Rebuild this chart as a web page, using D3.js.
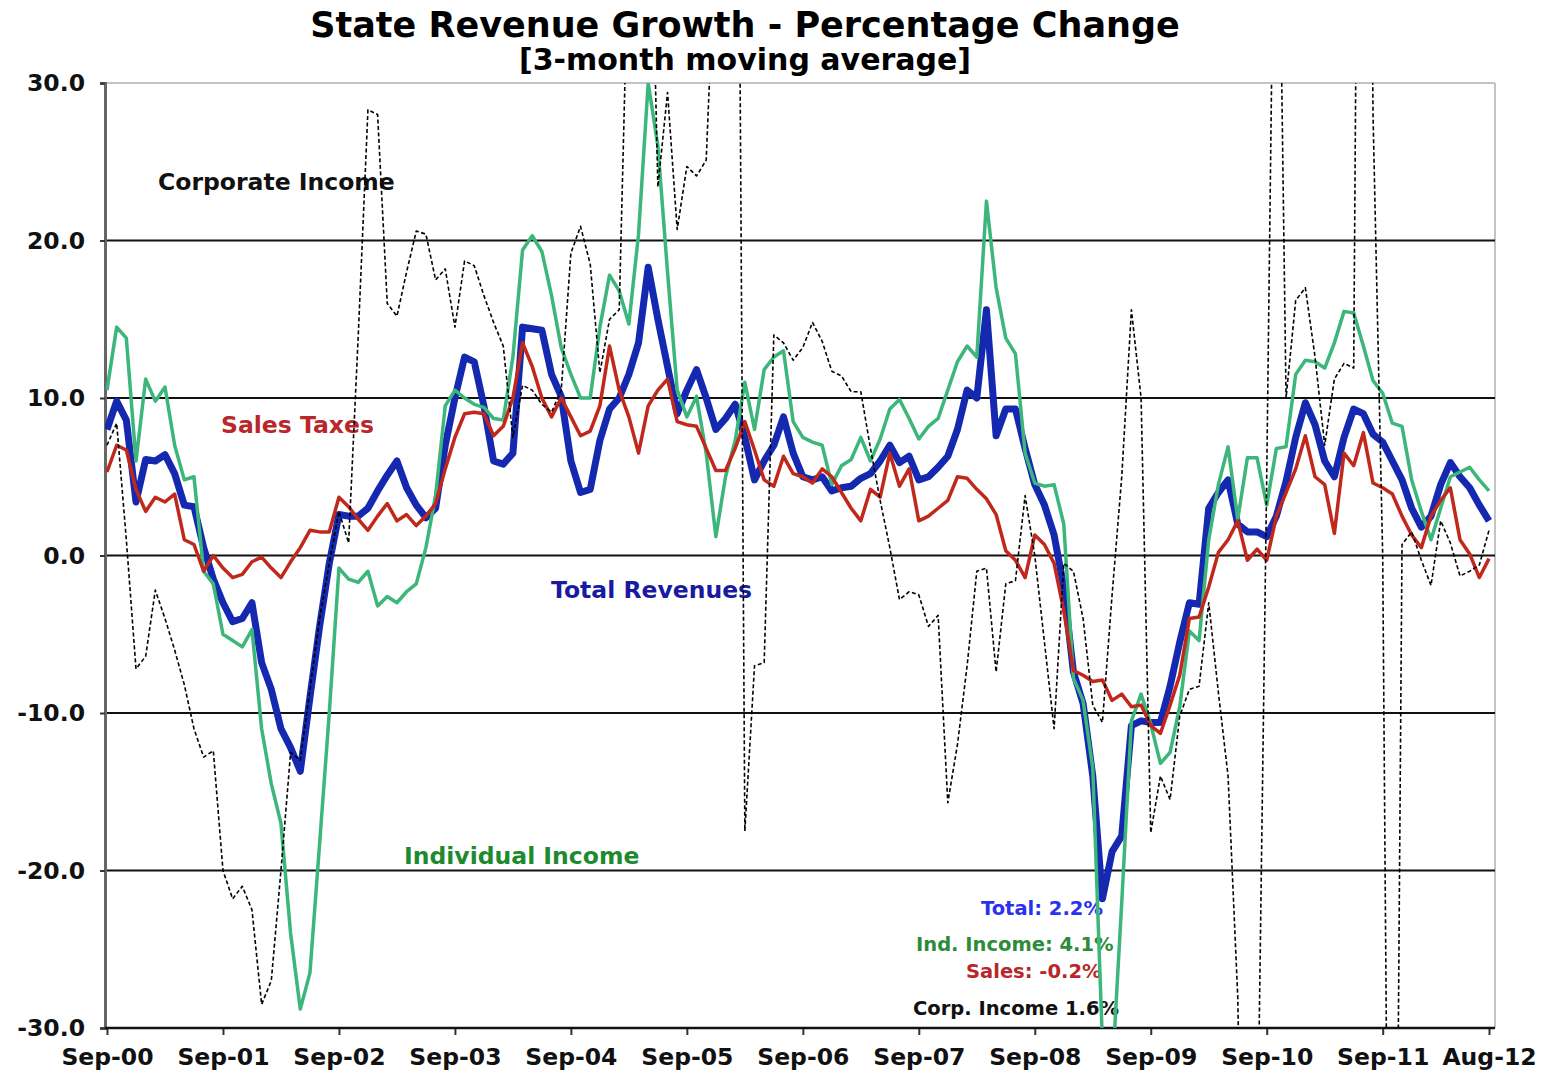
<!DOCTYPE html>
<meta charset="utf-8">
<style>
body { margin: 0; background: #fff; }
text { font-family: "DejaVu Sans", Verdana, sans-serif; font-weight: bold; }
</style>
<body>
<script src="https://cdn.jsdelivr.net/npm/d3@7"></script>
<script>

// monthly values, Sep-00 .. Aug-12 (144 months)
var totalRev = [
  8.0, 9.8, 8.6, 3.4, 6.1, 6.0, 6.4, 5.2, 3.2, 3.1, 0.5, -1.5,
  -3.0, -4.2, -4.0, -3.0, -6.8, -8.5, -11.0, -12.2, -13.7, -9.0, -4.5, -0.5,
  2.6, 2.5, 2.5, 3.0, 4.1, 5.1, 6.0, 4.3, 3.2, 2.4, 3.0, 7.0,
  10.0, 12.6, 12.3, 9.5, 6.0, 5.8, 6.5, 14.5, 14.4, 14.3, 11.5, 10.1,
  6.0, 4.0, 4.2, 7.3, 9.3, 10.0, 11.5, 13.5, 18.3, 15.0, 12.0, 9.0,
  10.5, 11.8, 10.0, 8.0, 8.7, 9.6, 7.5, 4.8, 6.0, 7.0, 8.8, 6.5,
  5.0, 4.8, 5.0, 4.1, 4.3, 4.4, 4.9, 5.2, 6.0, 7.0, 5.9, 6.3,
  4.8, 5.0, 5.6, 6.3, 8.0, 10.5, 10.0, 15.6, 7.6, 9.3, 9.3, 6.8,
  4.5, 3.2, 1.3, -2.0, -7.4, -9.4, -14.0, -21.8, -18.8, -17.8, -10.8, -10.5,
  -10.6, -10.6, -8.3, -5.5, -3.0, -3.1, 3.0, 4.0, 4.8, 2.0, 1.5, 1.5,
  1.2, 2.5, 4.7, 7.5, 9.7, 8.3, 6.0, 5.0, 7.5, 9.3, 9.0, 7.7,
  7.2, 6.0, 4.8, 3.0, 1.8, 2.5, 4.5, 5.9, 5.0, 4.3, 3.2, 2.2
];

var indIncome = [
  10.5, 14.5, 13.8, 6.0, 11.2, 9.8, 10.7, 7.0, 4.8, 5.0, -1.0, -1.8,
  -5.0, -5.4, -5.8, -4.7, -11.0, -14.5, -17.0, -24.0, -28.8, -26.5, -18.3, -10.0,
  -0.8, -1.5, -1.7, -1.0, -3.2, -2.6, -3.0, -2.3, -1.8, 0.5, 3.8, 9.5,
  10.5, 10.0, 9.6, 9.4, 8.7, 8.6, 12.6, 19.4, 20.3, 19.3, 16.5, 13.2,
  11.5, 10.0, 10.0, 14.5, 17.8, 16.8, 14.7, 20.4, 30.0, 26.0, 18.0, 10.5,
  8.8, 10.1, 6.5, 1.2, 5.0, 7.3, 11.0, 8.0, 11.8, 12.6, 13.0, 8.5,
  7.5, 7.2, 7.0, 4.5, 5.7, 6.1, 7.5, 6.0, 7.4, 9.3, 9.9, 8.7,
  7.4, 8.2, 8.7, 10.5, 12.3, 13.3, 12.6, 22.5, 17.0, 13.8, 12.8, 6.5,
  4.6, 4.4, 4.5, 2.0, -7.8, -9.2, -13.5, -31.0, -33.0, -22.0, -10.5, -8.8,
  -10.7, -13.2, -12.5, -9.6, -4.8, -5.4, 1.0, 4.5, 6.9, 2.3, 6.2, 6.2,
  3.2, 6.8, 6.9, 11.5, 12.4, 12.3, 11.9, 13.5, 15.5, 15.4, 13.3, 11.1,
  10.3, 8.4, 8.2, 4.8, 2.8, 1.0, 3.0, 5.0, 5.3, 5.6, 4.8, 4.1
];

var salesTax = [
  5.3, 7.0, 6.7, 4.2, 2.8, 3.7, 3.4, 3.9, 1.0, 0.7, -1.0, 0.0,
  -0.8, -1.4, -1.2, -0.4, -0.1, -0.8, -1.4, -0.4, 0.5, 1.6, 1.5, 1.5,
  3.7, 3.1, 2.3, 1.6, 2.5, 3.3, 2.2, 2.6, 1.9, 2.5, 3.3, 5.5,
  7.5, 9.0, 9.1, 9.0, 7.6, 8.2, 10.0, 13.5, 12.0, 10.0, 8.8, 10.0,
  8.8, 7.6, 7.9, 9.5, 13.3, 10.5, 8.8, 6.5, 9.5, 10.5, 11.2, 8.5,
  8.3, 8.2, 6.8, 5.4, 5.4, 6.8, 8.5, 6.7, 4.8, 4.4, 6.3, 5.2,
  5.0, 4.6, 5.5, 5.0, 4.0, 3.0, 2.2, 4.2, 3.7, 6.5, 4.4, 5.5,
  2.2, 2.5, 3.0, 3.5, 5.0, 4.9, 4.2, 3.6, 2.6, 0.3, -0.3, -1.4,
  1.3, 0.7, -0.5, -3.5, -7.3, -7.6, -8.0, -7.9, -9.2, -8.8, -9.6, -9.5,
  -10.8, -11.3, -9.5, -7.6, -4.0, -3.9, -2.0, 0.2, 1.0, 2.2, -0.3, 0.4,
  -0.3, 2.5, 4.0, 5.5, 7.6, 5.0, 4.5, 1.4, 6.5, 5.7, 7.8, 4.6,
  4.3, 3.9, 2.5, 1.3, 0.5, 2.5, 3.5, 4.3, 1.0, 0.1, -1.4, -0.2
];

// clipped months (beyond +/-30) carry large values so the line runs off the frame
var corpIncome = [
  7.0, 8.4, 1.0, -7.2, -6.4, -2.2, -4.0, -6.0, -8.2, -11.0, -12.8, -12.4,
  -20.0, -21.8, -21.0, -22.5, -28.5, -27.0, -20.0, -12.5, -13.0, -8.5, -4.0, -0.5,
  2.8, 0.8, 14.0, 28.3, 28.0, 16.0, 15.2, 18.0, 20.6, 20.4, 17.5, 18.2,
  14.5, 18.7, 18.4, 16.5, 14.8, 13.3, 7.5, 10.8, 10.5, 9.6, 9.1, 10.5,
  19.2, 20.9, 18.5, 11.6, 15.0, 15.6, 40, 60, 50, 23.4, 29.4, 20.7,
  24.7, 24.1, 25.1, 40, 80, 80, -17.5, -7.0, -6.8, 14.0, 13.5, 12.4,
  13.2, 14.8, 13.6, 11.7, 11.4, 10.4, 10.4, 6.8, 3.5, 0.5, -2.8, -2.3,
  -2.5, -4.5, -3.8, -15.7, -12.0, -7.0, -1.0, -0.8, -7.4, -1.8, -1.6, 3.8,
  0.0, -5.5, -11.0, -0.5, -1.0, -4.0, -9.5, -10.6, -2.5, 5.0, 15.6, 10.0,
  -17.6, -14.0, -15.5, -10.2, -8.5, -8.3, -3.0, -8.7, -14.0, -28.0, -60, -40,
  5, 55, 10.0, 16.2, 17.0, 12.6, 7.0, 11.2, 12.2, 11.9, 100, 28,
  0, -80, 0.7, 1.5, -0.3, -1.9, 2.2, 0.8, -1.3, -1.0, -0.6, 1.6
];

var tickIdx = [0, 12, 24, 36, 48, 60, 72, 84, 96, 108, 120, 132, 143];
var tickLabels = ["Sep-00", "Sep-01", "Sep-02", "Sep-03", "Sep-04", "Sep-05", "Sep-06",
                  "Sep-07", "Sep-08", "Sep-09", "Sep-10", "Sep-11", "Aug-12"];
var yTicks = [30, 20, 10, 0, -10, -20, -30];
var gridVals = [20, 10, 0, -10, -20];

var width = 1554, height = 1074;
var plot = {left: 105, right: 1495, top: 83, bottom: 1028};

var x = d3.scaleLinear().domain([0, 143]).range([107, 1489]);
var y = d3.scaleLinear().domain([-30, 30]).range([plot.bottom, plot.top]);

var svg = d3.select("body").append("svg")
    .attr("width", width)
    .attr("height", height);

svg.append("defs").append("clipPath")
    .attr("id", "plotclip")
  .append("rect")
    .attr("x", plot.left)
    .attr("y", plot.top)
    .attr("width", plot.right - plot.left)
    .attr("height", plot.bottom - plot.top);

// title
svg.append("text")
    .attr("x", 745).attr("y", 37)
    .attr("text-anchor", "middle")
    .style("font-size", "35px")
    .text("State Revenue Growth - Percentage Change");
svg.append("text")
    .attr("x", 745).attr("y", 70)
    .attr("text-anchor", "middle")
    .style("font-size", "30px")
    .text("[3-month moving average]");

// frame
svg.append("line")
    .attr("x1", plot.left).attr("x2", plot.right)
    .attr("y1", plot.top).attr("y2", plot.top)
    .style("stroke", "#c4c4c4").style("stroke-width", 2);
svg.append("line")
    .attr("x1", plot.right).attr("x2", plot.right)
    .attr("y1", plot.top).attr("y2", plot.bottom)
    .style("stroke", "#c4c4c4").style("stroke-width", 2);

svg.selectAll(".grid")
    .data(gridVals)
  .enter().append("line")
    .attr("class", "grid")
    .attr("x1", plot.left).attr("x2", plot.right)
    .attr("y1", function(d) { return y(d); })
    .attr("y2", function(d) { return y(d); })
    .style("stroke", "#111")
    .style("stroke-width", 1.8);

// y axis (plain hyphen for negatives, like the original)
var fmt = d3.format(".1f");
var yAxis = d3.axisLeft(y)
    .tickValues(yTicks)
    .tickFormat(function(d) { return fmt(d).replace("\u2212", "-"); })
    .tickSize(5)
    .tickPadding(15);

var gy = svg.append("g")
    .attr("transform", "translate(" + plot.left + ",0)")
    .call(yAxis);
gy.select(".domain").style("stroke", "#666").style("stroke-width", 3);
gy.selectAll(".tick line").style("stroke", "#333").style("stroke-width", 2);
gy.selectAll(".tick text")
    .style("font-size", "23.5px")
    .style("fill", "#111")
    .style("font-family", "'DejaVu Sans', Verdana, sans-serif")
    .style("font-weight", "bold");

// x axis
var xAxis = d3.axisBottom(x)
    .tickValues(tickIdx)
    .tickFormat(function(d, i) { return tickLabels[i]; })
    .tickSize(7)
    .tickPadding(13);

var gx = svg.append("g")
    .attr("transform", "translate(0," + plot.bottom + ")")
    .call(xAxis);
gx.select(".domain").remove();
gx.append("line")
    .attr("x1", plot.left).attr("x2", plot.right)
    .style("stroke", "#111").style("stroke-width", 2.5);
gx.selectAll(".tick line").style("stroke", "#333").style("stroke-width", 2);
gx.selectAll(".tick text")
    .style("font-size", "23.5px")
    .style("fill", "#111")
    .style("font-family", "'DejaVu Sans', Verdana, sans-serif")
    .style("font-weight", "bold");

// series labels (under the lines)
var labels = [
  {t: "Corporate Income", x: 158, y: 190, c: "#111", s: 23.5},
  {t: "Sales Taxes", x: 221, y: 433, c: "#b8282a", s: 23.5},
  {t: "Total Revenues", x: 551, y: 598, c: "#1a1aa0", s: 23.5},
  {t: "Individual Income", x: 404, y: 864, c: "#1e8a30", s: 23.5},
  {t: "Total: 2.2%", x: 981, y: 915, c: "#2a32ee", s: 19.5},
  {t: "Ind. Income: 4.1%", x: 916, y: 951, c: "#2e8b3a", s: 19.5},
  {t: "Sales: -0.2%", x: 966, y: 978, c: "#b8282a", s: 19.5},
  {t: "Corp. Income 1.6%", x: 913, y: 1015, c: "#111", s: 19.5}
];

svg.selectAll(".lbl")
    .data(labels)
  .enter().append("text")
    .attr("class", "lbl")
    .attr("x", function(d) { return d.x; })
    .attr("y", function(d) { return d.y; })
    .style("font-size", function(d) { return d.s + "px"; })
    .style("fill", function(d) { return d.c; })
    .text(function(d) { return d.t; });

// lines
var line = d3.line()
    .x(function(d, i) { return x(i); })
    .y(function(d) { return y(d); });

var series = [
  {v: totalRev, c: "#1428b0", w: 7, dash: null},
  {v: indIncome, c: "#3cb67a", w: 3.5, dash: null},
  {v: salesTax, c: "#c0281c", w: 3.5, dash: null},
  {v: corpIncome, c: "#000", w: 1.6, dash: "4,2.5"}
];

var lines = svg.append("g").attr("clip-path", "url(#plotclip)");

lines.selectAll("path")
    .data(series)
  .enter().append("path")
    .attr("d", function(d) { return line(d.v); })
    .style("fill", "none")
    .style("stroke", function(d) { return d.c; })
    .style("stroke-width", function(d) { return d.w; })
    .style("stroke-linejoin", "round")
    .style("stroke-dasharray", function(d) { return d.dash; });

</script>
</body>
